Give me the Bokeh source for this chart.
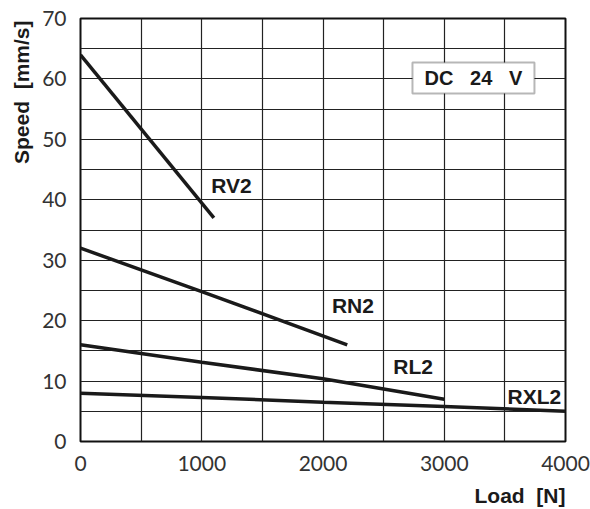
from bokeh.plotting import figure
from bokeh.models import Range1d, FixedTicker, Label, BoxAnnotation, Title
from bokeh.embed import file_html
from bokeh.resources import INLINE

# data
rv2_load = [0, 1100]
rv2_speed = [64, 37]
rn2_load = [0, 1000, 2200]
rn2_speed = [32, 24.8, 16]
rl2_load = [0, 1000, 2000, 3000]
rl2_speed = [16, 13.1, 10.4, 7]
rxl2_load = [0, 1000, 2000, 3000, 4000]
rxl2_speed = [8, 7.3, 6.5, 5.8, 5]

x_ticks = [0, 1000, 2000, 3000, 4000]
y_ticks = [0, 10, 20, 30, 40, 50, 60, 70]
x_grid = [0, 500, 1000, 1500, 2000, 2500, 3000, 3500, 4000]
y_grid = [0, 5, 10, 15, 20, 25, 30, 35, 40, 45, 50, 55, 60, 65, 70]

series_names = ["RV2", "RN2", "RL2", "RXL2"]
label_pos = [(1245, 42.4), (2247, 22.5), (2744, 12.4), (3743, 7.45)]

NB = "\u00a0"
FONT_B = "Liberation Sans"
FONT_T = "Lato"

p = figure(frame_width=485, frame_height=423,
           min_border_left=80, min_border_right=25,
           min_border_top=18, min_border_bottom=68,
           x_range=Range1d(0, 4000), y_range=Range1d(0, 70),
           output_backend="svg", toolbar_location=None,
           background_fill_color="white", border_fill_color="white")

p.outline_line_color = "#111111"
p.outline_line_width = 2

for ax in (p.xaxis, p.yaxis):
    ax.axis_line_color = None
    ax.major_tick_out = 0
    ax.major_tick_in = 0
    ax.minor_tick_out = 0
    ax.minor_tick_in = 0
    ax.major_label_text_font = FONT_T
    ax.major_label_text_font_size = "21px"
    ax.major_label_text_color = "#333333"

p.xaxis.ticker = FixedTicker(ticks=x_ticks)
p.yaxis.ticker = FixedTicker(ticks=y_ticks)
p.xaxis.major_label_standoff = 14
p.yaxis.major_label_standoff = 14

p.xgrid.ticker = FixedTicker(ticks=x_grid)
p.ygrid.ticker = FixedTicker(ticks=y_grid)
for g in (p.xgrid, p.ygrid):
    g.grid_line_color = "#222222"
    g.grid_line_width = 1.2

lw = 3.5
p.line(rv2_load, rv2_speed, line_color="#1a1a1a", line_width=lw)
p.line(rn2_load, rn2_speed, line_color="#1a1a1a", line_width=lw)
p.line(rl2_load, rl2_speed, line_color="#1a1a1a", line_width=lw)
p.line(rxl2_load, rxl2_speed, line_color="#1a1a1a", line_width=lw)

for name, (lx, ly) in zip(series_names, label_pos):
    p.add_layout(Label(x=lx, y=ly, text=name, text_font=FONT_B,
                       text_font_style="bold", text_font_size="21px",
                       text_align="center", text_baseline="middle",
                       text_color="#1a1a1a"))

# DC 24 V box
p.add_layout(BoxAnnotation(left=2738, right=3744, bottom=57.6, top=62.7,
                           fill_color="white", fill_alpha=1.0,
                           line_color="#111111", line_width=2, level="annotation"))
p.add_layout(Label(x=3241, y=60.15, text="DC" + NB * 3 + "24" + NB * 3 + "V",
                   text_font=FONT_B, text_font_style="bold", text_font_size="20px",
                   text_align="center", text_baseline="middle", text_color="#1a1a1a",
                   level="overlay"))

# axis titles
p.add_layout(Title(text="Speed" + NB * 2 + "[mm/s]", align="right", offset=2, standoff=14,
                   text_font=FONT_B, text_font_style="bold", text_font_size="21px",
                   text_color="#1a1a1a"), "left")
p.add_layout(Title(text="Load" + NB * 2 + "[N]", align="right", offset=0, standoff=17,
                   text_font=FONT_B, text_font_style="bold", text_font_size="21px",
                   text_color="#1a1a1a"), "below")

open("out.html", "w").write(file_html(p, INLINE))
